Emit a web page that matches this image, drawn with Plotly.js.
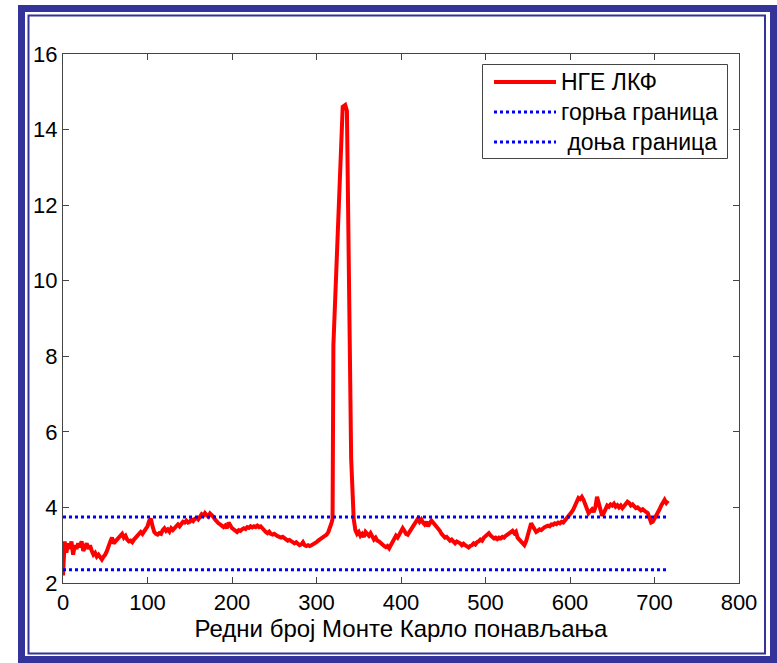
<!DOCTYPE html>
<html>
<head>
<meta charset="utf-8">
<script src="https://cdn.plot.ly/plotly-3.0.1.min.js"></script>
<style>
html,body{margin:0;padding:0;background:#fff;}
#chart{width:777px;height:663px;}
</style>
</head>
<body>
<div id="chart"></div>
<script>
// ---- data ----
const iterations = [0,1,2,4,6,8,10,12,14,16,18,20,22,24,26,28,30,32,34,36,38,40,42,44,46,48,50,52,54,56,58,60,62,64,66,68,70,72,74,76,78,80,82,84,86,88,90,92,94,96,98,100,102,104,106,108,110,112,114,116,118,120,122,124,126,128,130,132,134,136,138,140,142,144,146,148,150,152,154,156,158,160,162,164,166,168,170,172,174,176,178,180,182,184,186,188,190,192,194,196,198,200,202,204,206,208,210,212,214,216,218,220,222,224,226,228,230,232,234,236,238,240,242,244,246,248,250,252,254,256,258,260,262,264,266,268,270,272,274,276,278,280,282,284,286,288,290,292,294,296,298,300,302,304,306,308,310,312,314,316,318,319,320,331,334,336,339,341,344,346,348,350,352,354,356,358,360,362,364,366,368,370,372,374,376,378,380,382,384,386,388,390,392,394,396,398,400,402,404,406,408,410,412,414,416,418,420,422,424,426,428,430,432,434,436,438,440,442,444,446,448,450,452,454,456,458,460,462,464,466,468,470,472,474,476,478,480,482,484,486,488,490,492,494,496,498,500,502,504,506,508,510,512,514,516,518,520,522,524,526,528,530,532,534,536,538,540,542,544,546,548,550,552,554,556,558,560,562,564,566,568,570,572,574,576,578,580,582,584,586,588,590,592,594,596,598,600,602,604,606,608,610,612,614,616,618,620,622,624,626,628,630,632,634,636,638,640,642,644,646,648,650,652,654,656,658,660,662,664,666,668,670,672,674,676,678,680,682,684,686,688,690,692,694,696,698,700,702,704,706,708,710,712,714,716];
const ngeLkf = [2.2,2.9,3.1,2.8,3.05,2.9,3.1,2.75,3.0,2.9,3.05,2.95,3.1,2.85,2.95,3.05,2.9,3.0,2.85,2.75,2.8,2.7,2.75,2.68,2.62,2.7,2.75,2.85,3.0,3.1,3.2,3.05,3.1,3.15,3.2,3.25,3.3,3.2,3.25,3.15,3.1,3.12,3.08,3.15,3.2,3.25,3.3,3.35,3.3,3.38,3.42,3.5,3.65,3.7,3.5,3.35,3.3,3.28,3.32,3.3,3.4,3.45,3.38,3.42,3.36,3.45,3.4,3.45,3.5,3.55,3.5,3.58,3.62,3.6,3.65,3.6,3.62,3.68,3.64,3.7,3.72,3.68,3.75,3.82,3.78,3.85,3.8,3.76,3.84,3.8,3.75,3.68,3.62,3.58,3.55,3.5,3.48,3.52,3.45,3.6,3.5,3.45,3.42,3.38,3.35,3.4,3.38,3.42,3.45,3.43,3.48,3.46,3.5,3.47,3.5,3.48,3.52,3.48,3.5,3.45,3.38,3.35,3.32,3.36,3.3,3.28,3.3,3.26,3.24,3.22,3.2,3.22,3.18,3.15,3.12,3.14,3.1,3.08,3.05,3.08,3.04,3.0,3.02,3.08,3.0,2.98,3.0,2.98,3.0,3.02,3.05,3.08,3.12,3.15,3.18,3.2,3.22,3.28,3.35,3.45,3.6,3.7,8.3,14.6,14.65,14.5,8.4,5.3,3.7,3.4,3.3,3.35,3.25,3.3,3.22,3.35,3.3,3.25,3.32,3.2,3.15,3.2,3.12,3.1,3.05,3.0,2.98,2.95,2.98,2.92,3.0,3.05,3.15,3.25,3.2,3.3,3.35,3.45,3.38,3.3,3.28,3.35,3.45,3.52,3.6,3.65,3.7,3.62,3.68,3.6,3.55,3.62,3.5,3.58,3.65,3.6,3.55,3.5,3.45,3.38,3.3,3.25,3.2,3.22,3.15,3.12,3.15,3.1,3.05,3.1,3.08,3.05,3.0,3.04,3.0,2.96,2.94,2.98,3.0,3.05,3.02,3.08,3.1,3.15,3.12,3.2,3.25,3.28,3.32,3.26,3.2,3.18,3.2,3.16,3.2,3.18,3.22,3.2,3.25,3.28,3.3,3.34,3.38,3.32,3.36,3.2,3.15,3.1,3.05,3.0,3.1,3.3,3.45,3.58,3.5,3.4,3.35,3.38,3.42,3.4,3.45,3.48,3.5,3.52,3.5,3.55,3.54,3.58,3.56,3.6,3.58,3.62,3.6,3.65,3.7,3.75,3.8,3.88,3.95,4.05,4.15,4.25,4.22,4.28,4.2,4.1,3.95,3.85,3.9,3.95,3.88,4.0,4.28,4.1,3.95,3.78,3.85,3.95,4.05,4.02,4.08,4.05,4.1,4.02,4.06,4.0,4.05,3.98,4.05,4.1,4.15,4.12,4.05,4.08,4.02,3.98,4.0,3.95,3.92,3.95,3.9,3.88,3.85,3.72,3.6,3.62,3.7,3.75,3.85,3.95,4.05,4.15,4.2,4.12,4.18];
const boundX = [0, 716];
const upperBound = [3.75, 3.75];
const lowerBound = [2.35, 2.35];
const seriesNames = ["НГЕ ЛКФ", "горња граница", " доња граница"];
const xTitle = "Редни број Монте Карло понављања";

// ---- chart ----
const FONT = "Liberation Sans, Arial, sans-serif";
const styles = [
  {color: "#ff0000", width: 4, dash: "solid"},
  {color: "#0000ff", width: 3, dash: "dot"},
  {color: "#0000ff", width: 3, dash: "dot"}
];
const traces = [
  {x: iterations, y: ngeLkf, name: seriesNames[0], mode: "lines", line: styles[0]},
  {x: boundX, y: upperBound, name: seriesNames[1], mode: "lines", line: styles[1]},
  {x: boundX, y: lowerBound, name: seriesNames[2], mode: "lines", line: styles[2]}
];

// paper coordinate helpers (plot area 63..739 x 54..583)
const L = 63, R = 739, T = 54, B = 583;
const px = v => (v - L) / (R - L);
const py = v => (B - v) / (B - T);

const shapes = [
  {type: "rect", xref: "paper", yref: "paper",
   x0: px(21.5), x1: px(773.5), y0: py(8.5), y1: py(659.5),
   line: {color: "#333399", width: 7}, layer: "above"},
  {type: "rect", xref: "paper", yref: "paper",
   x0: px(28.5), x1: px(765), y0: py(15.5), y1: py(653.5),
   line: {color: "#333399", width: 2}, layer: "above"},
  // legend box
  {type: "rect", xref: "paper", yref: "paper",
   x0: px(482.5), x1: px(727.5), y0: py(64.5), y1: py(158.5),
   fillcolor: "#ffffff", line: {color: "#444", width: 1}, layer: "above"}
];
const annotations = [];
const rowY = [82, 112, 142];
const textX = [559, 559, 559];
seriesNames.forEach((n, i) => {
  shapes.push({type: "line", xref: "paper", yref: "paper",
    x0: px(494), x1: px(556), y0: py(rowY[i]), y1: py(rowY[i]),
    line: {color: styles[i].color, width: styles[i].width, dash: styles[i].dash}, layer: "above"});
  annotations.push({xref: "paper", yref: "paper", x: px(textX[i]), y: py(rowY[i]),
    xanchor: "left", yanchor: "middle", text: n.replace(/^ /, "&nbsp;"), showarrow: false,
    font: {family: FONT, size: 23, color: "#000"}});
});

const layout = {
  width: 777, height: 663,
  margin: {l: L, r: 777 - R, t: T, b: 663 - B},
  paper_bgcolor: "#ffffff", plot_bgcolor: "#ffffff",
  font: {family: FONT, color: "#000", size: 22},
  showlegend: false,
  xaxis: {range: [0, 800], dtick: 100, tick0: 0, ticks: "inside", ticklen: 6,
    tickcolor: "#444", showline: true, linecolor: "#444", linewidth: 1,
    mirror: "ticks", showgrid: false, zeroline: false, automargin: false,
    tickfont: {family: FONT, size: 22, color: "#000"},
    title: {text: xTitle, font: {family: FONT, size: 24, color: "#000"}, standoff: 4}},
  yaxis: {range: [2, 16], dtick: 2, tick0: 2, ticks: "inside", ticklen: 6,
    tickcolor: "#444", showline: true, linecolor: "#444", linewidth: 1,
    mirror: "ticks", showgrid: false, zeroline: false, automargin: false,
    tickfont: {family: FONT, size: 22, color: "#000"}},
  shapes: shapes,
  annotations: annotations
};

Plotly.newPlot("chart", traces, layout, {staticPlot: true, displayModeBar: false});
</script>
</body>
</html>
